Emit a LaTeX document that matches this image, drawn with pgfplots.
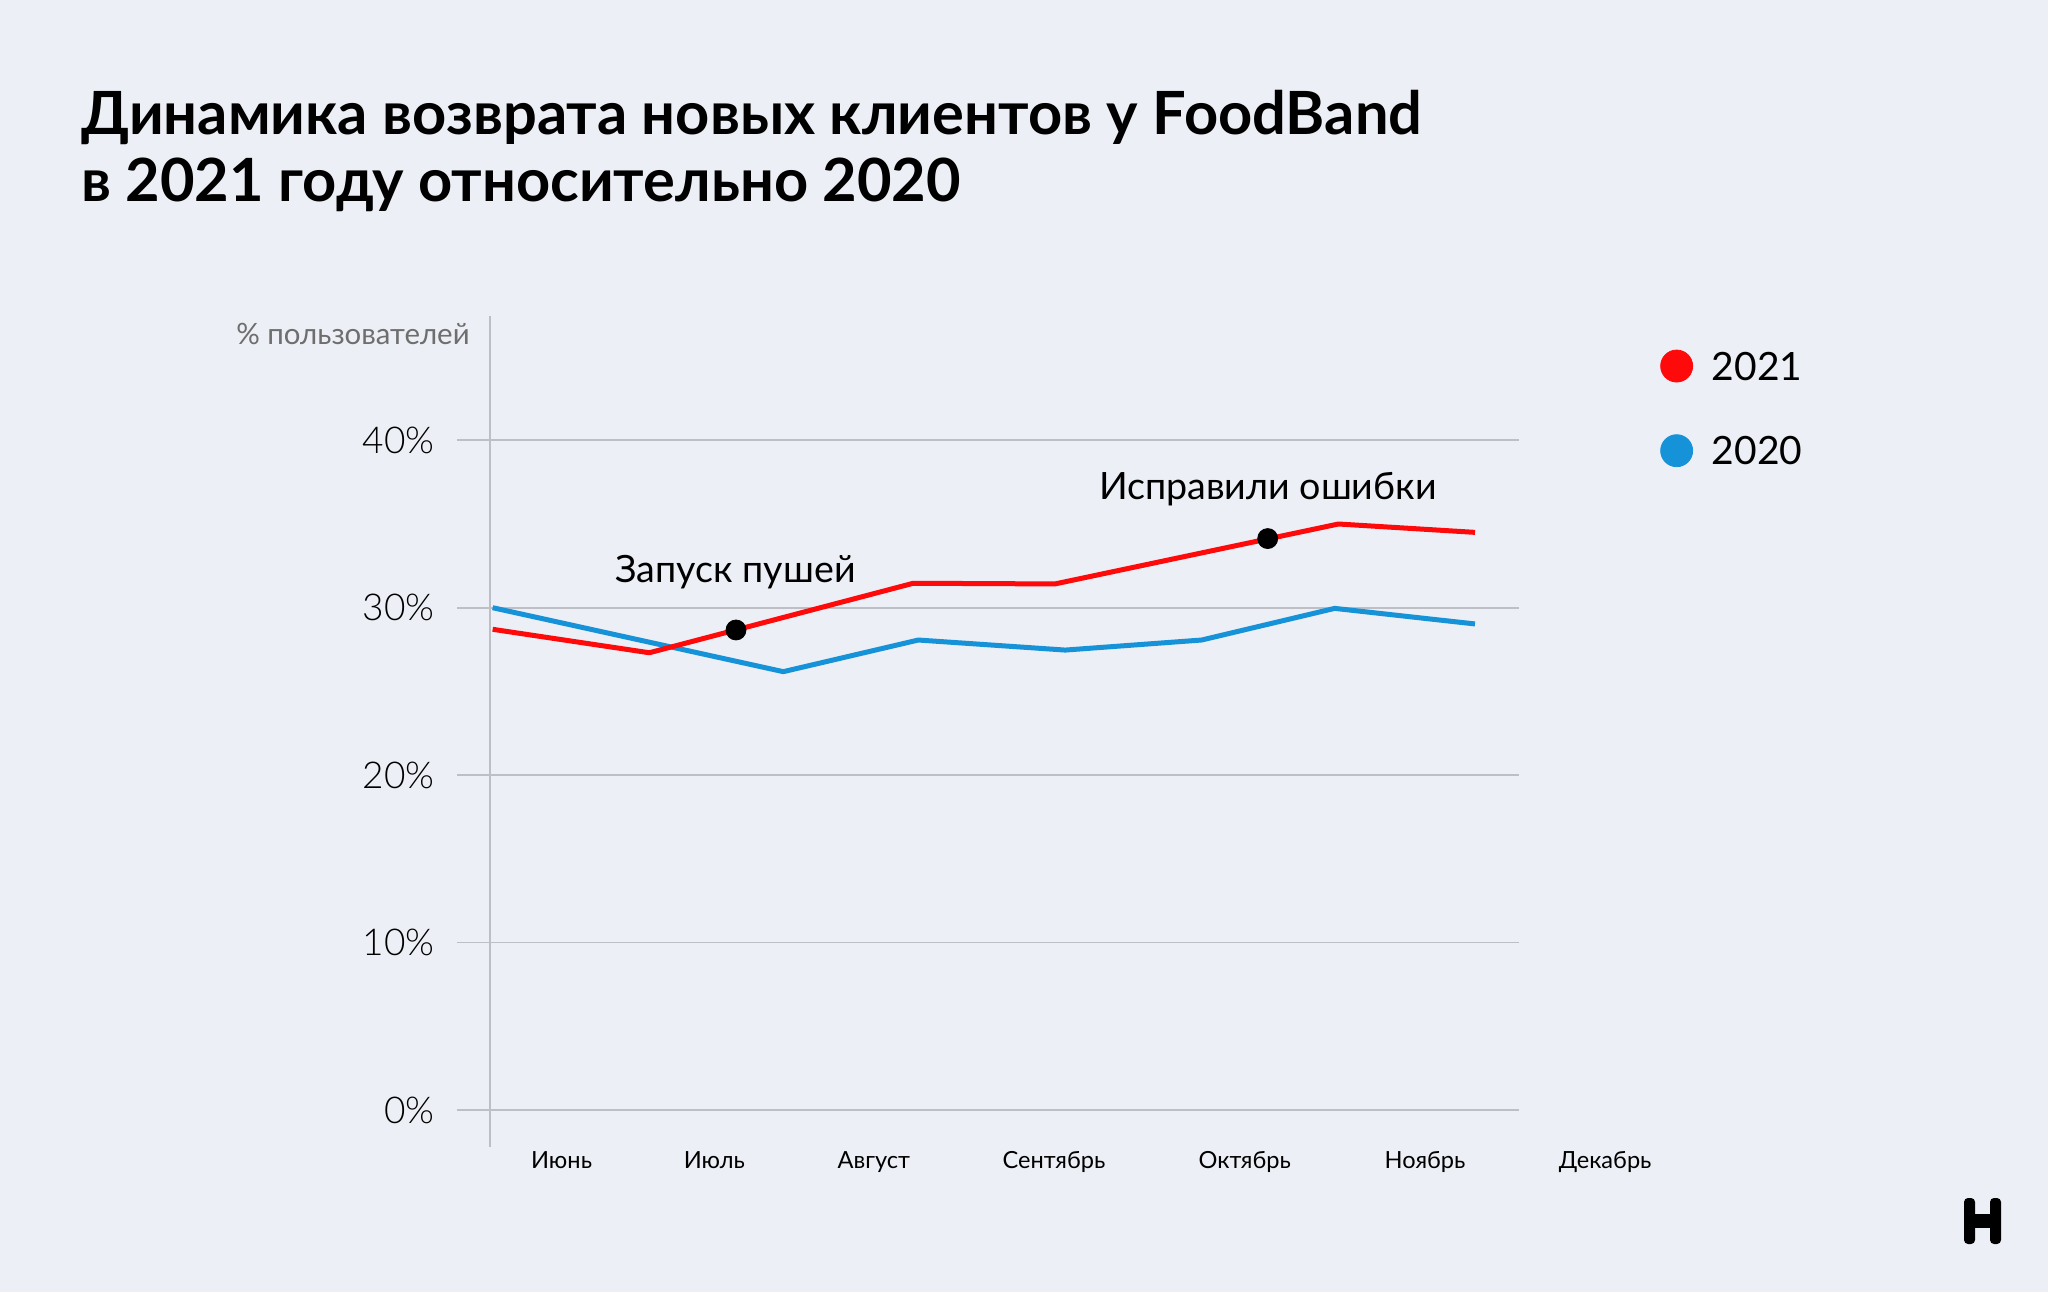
\documentclass[border=0pt]{standalone}
\usepackage{fontspec}
\setmainfont{Lato}
\newfontfamily\lightfont{Lato Light}
\usepackage{pgfplots}
\pgfplotsset{compat=1.18}
\definecolor{bg}{HTML}{ECEFF5}
\definecolor{redline}{HTML}{FF0A0A}
\definecolor{blueline}{HTML}{1592D8}
\definecolor{gridc}{HTML}{BEBFC4}
\definecolor{labelgray}{HTML}{6E6E6E}
\begin{document}
\begin{tikzpicture}
\fill[bg] (0pt,0pt) rectangle (1024pt,646pt);
\node[anchor=base west, inner sep=0pt, font=\fontsize{29.8}{34}\selectfont\bfseries] at (40.5pt,578.5pt) {Динамика возврата новых клиентов у FoodBand};
\node[anchor=base west, inner sep=0pt, font=\fontsize{29.8}{34}\selectfont\bfseries] at (40.5pt,545.2pt) {в 2021 году относительно 2020};
\node[anchor=base east, inner sep=0pt, text=labelgray, font=\fontsize{14.7}{18}\selectfont] at (235pt,473.5pt) {\% пользователей};

% month labels
\begin{axis}[
  at={(245pt,72.5pt)}, anchor=south west,
  x=70.165pt, y=8.3715pt,
  xmin=-0.019, xmax=8.4, ymin=-2.21, ymax=47.42,
  axis y line=none, axis x line*=bottom,
  x axis line style={draw=none},
  xtick={0.491,1.580,2.716,4.0,5.359,6.644,7.928},
  xticklabels={Июнь,Июль,Август,Сентябрь,Октябрь,Ноябрь,Декабрь},
  major tick length=0pt,
  xticklabel style={anchor=base, yshift=-10.7pt, font=\fontsize{11.8}{14}\selectfont},
]
\end{axis}

\begin{axis}[
  at={(245pt,72.5pt)}, anchor=south west,
  x=70.165pt, y=8.3715pt,
  xmin=-0.019, xmax=7.313, ymin=-2.21, ymax=47.42,
  axis x line=none, axis y line*=left,
  y axis line style={-, draw=gridc, line width=0.7pt},
  ytick={0,10,20,30,40},
  yticklabels={0\%,10\%,20\%,30\%,40\%},
  tick align=outside, major tick length=16.5pt,
  y tick style={draw=gridc, line width=0.9pt},
  ymajorgrids, grid style={draw=gridc, line width=0.9pt},
  yticklabel style={anchor=east, inner sep=0pt, xshift=-11pt, font=\lightfont\fontsize{18.5}{20}\selectfont},
  clip=false,
  legend style={at={(1.137,0.962)}, anchor=north west, draw=none, fill=none, inner sep=0pt,
    font=\fontsize{19.5}{22}\selectfont, row sep=22.7pt,
    /tikz/every odd column/.append style={column sep=7.4pt}},
  legend cell align=left,
]
\addlegendimage{redline, legend image code/.code={\fill[redline] (8pt,0.8pt) circle (8pt);}}
\addlegendentry{2021}
\addlegendimage{blueline, legend image code/.code={\fill[blueline] (8pt,0.8pt) circle (8pt);}}
\addlegendentry{2020}

\addplot[blueline, line width=2.5pt, line join=round, forget plot] coordinates {
  (0,30.0) (2.071,26.18) (3.033,28.07) (4.08,27.47) (5.052,28.07) (6.0,29.96) (7,29.03)};
\addplot[redline, line width=2.5pt, line join=round, forget plot] coordinates {
  (0,28.71) (1.116,27.31) (2.997,31.46) (4.007,31.42) (6.027,35.0) (7,34.5)};
\addplot[only marks, mark=*, mark size=5pt, black, forget plot] coordinates {
  (1.734,28.67) (5.523,34.13)};

\node[anchor=base, inner sep=0pt, font=\fontsize{18.8}{22}\selectfont] at (axis cs:1.731,31.49) {Запуск пушей};
\node[anchor=base, inner sep=0pt, font=\fontsize{18.8}{22}\selectfont] at (axis cs:5.524,36.47) {Исправили ошибки};
\end{axis}

% logo
\fill[black, rounded corners=2pt] (982pt,24pt) rectangle (987.5pt,47pt);
\fill[black, rounded corners=2pt] (995pt,24pt) rectangle (1000.5pt,47pt);
\fill[black] (984pt,32pt) rectangle (998.5pt,39pt);

\pgfresetboundingbox
\useasboundingbox (0pt,0pt) rectangle (1024pt,646pt);
\end{tikzpicture}
\end{document}
